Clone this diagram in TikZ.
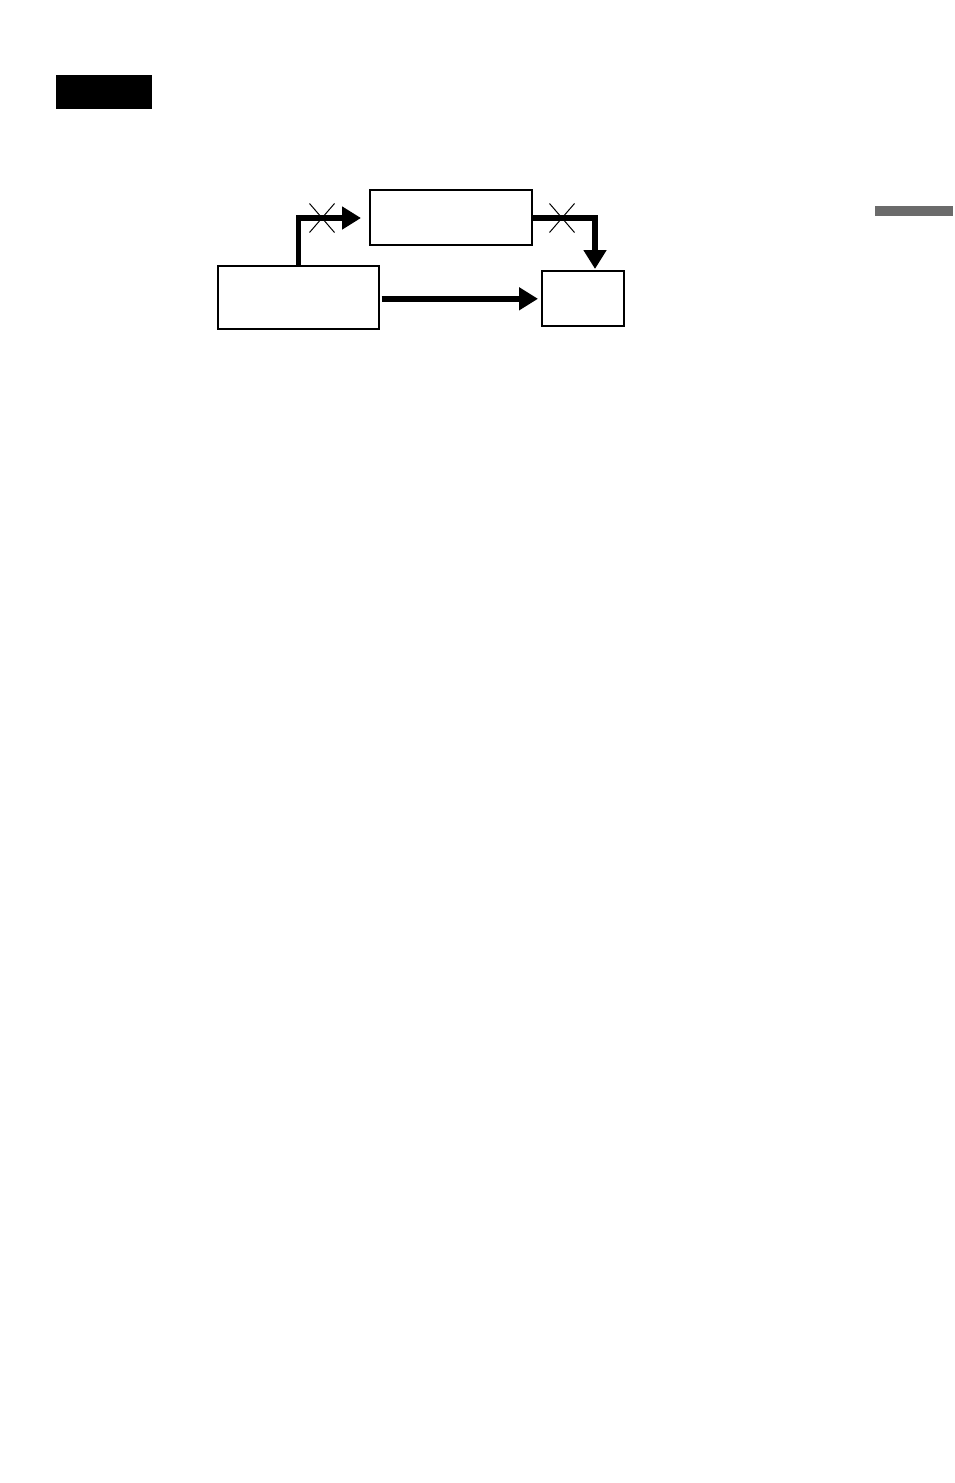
\documentclass[tikz,border=0pt]{standalone}
\usetikzlibrary{arrows.meta,shapes.misc,calc}
\begin{document}
\begin{tikzpicture}[x=1pt,y=-1pt,
  box/.style={draw=black,line width=1.6pt,inner sep=0pt,anchor=north west},
  flow/.style={line width=5.5pt,-{Triangle[length=19pt,width=22pt]}},
  cut/.style={cross out,draw=black,line width=1pt,inner sep=0pt,minimum width=24pt,minimum height=28pt}]
\useasboundingbox (0,0) rectangle (954,1483);
\node[fill=black,inner sep=0pt,anchor=north west,minimum width=96pt,minimum height=34pt] (tag) at (56,75) {};
\node[fill=black!58,inner sep=0pt,anchor=north west,minimum width=78pt,minimum height=10pt] (tab) at (875,206) {};
\node[box,minimum width=161pt,minimum height=63pt] (A) at (217,265) {};
\node[box,minimum width=162pt,minimum height=55pt] (B) at (369,189) {};
\node[box,minimum width=82pt,minimum height=55pt] (C) at (541,270) {};
\coordinate (a1) at ($(A.north)+(0,0)$);
\coordinate (b1) at (361,218);
\coordinate (b2) at (531,218);
\coordinate (c1) at (595,269);
\coordinate (a2) at ($(A.east)+(2,1.5)$);
\draw[flow,line cap=butt] (a1) |- (b1);
\draw[flow] (b2) -| (c1);
\draw[flow] (a2) -- ([xshift=-3pt]a2 -| C.west);
\node[cut] (x1) at (322,218) {};
\node[cut] (x2) at (562,218) {};
\end{tikzpicture}
\end{document}
